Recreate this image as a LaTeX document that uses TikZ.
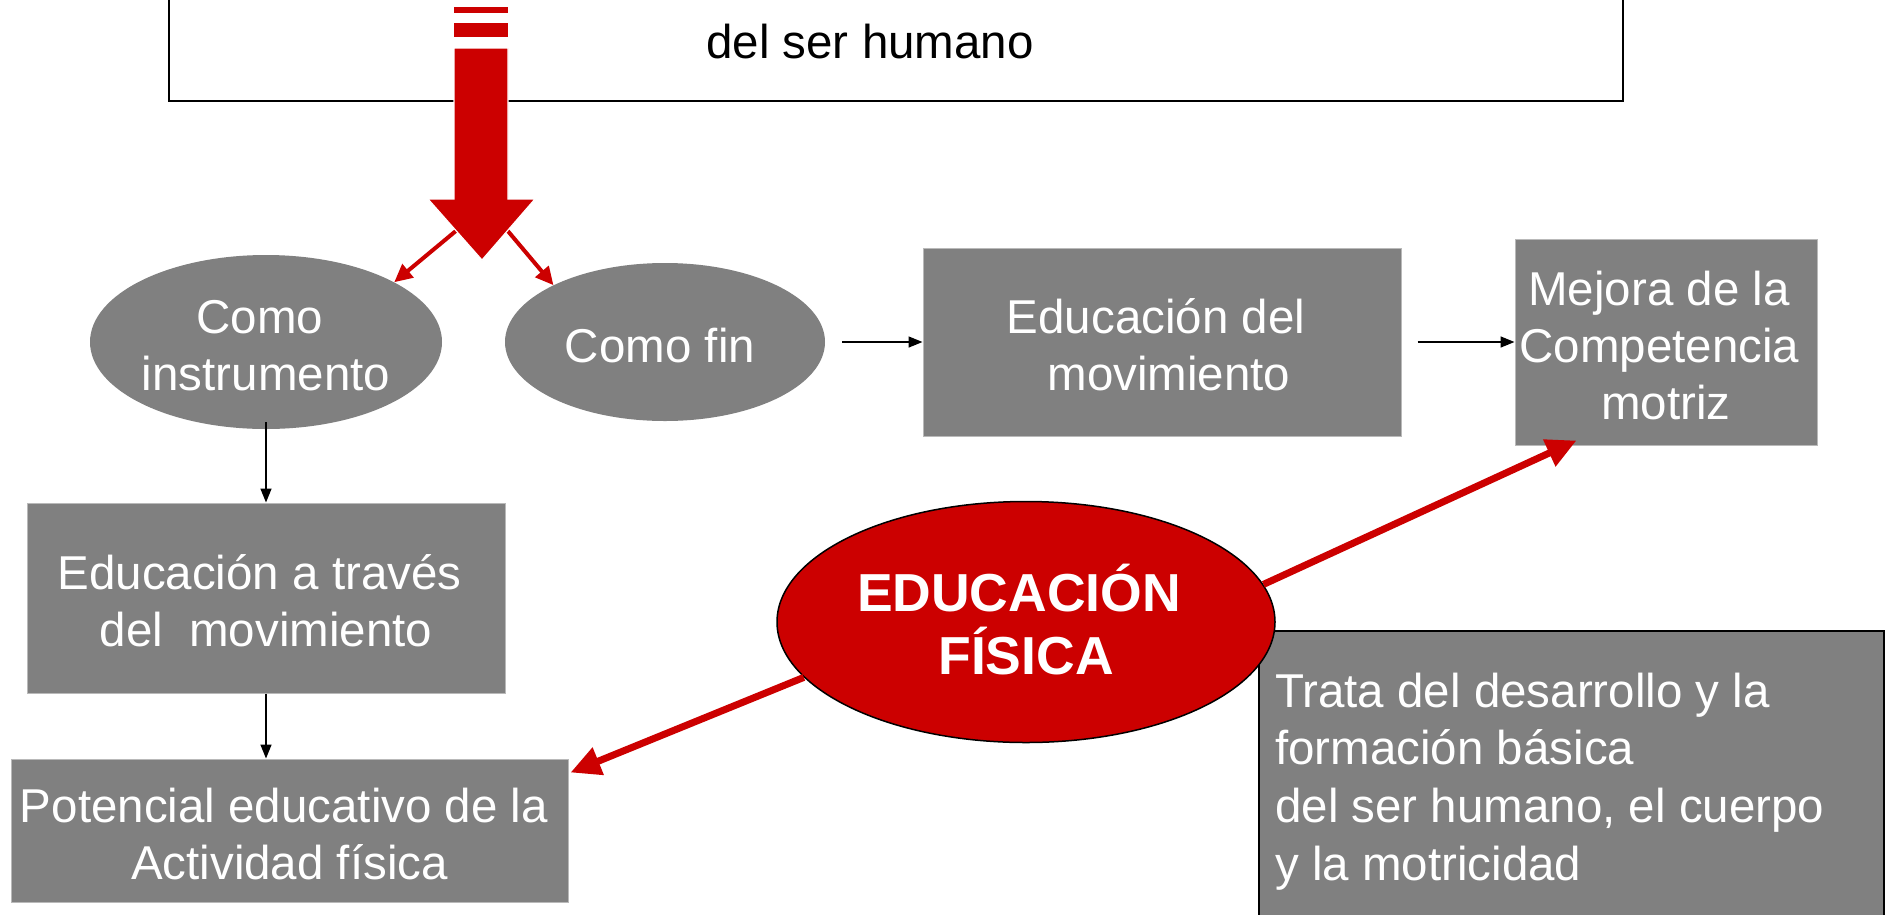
\documentclass[tikz,border=0pt]{standalone}
\usepackage{fontspec}
\setmainfont{Liberation Sans}
\usetikzlibrary{shapes.geometric,arrows.meta,calc}
\definecolor{efred}{HTML}{CC0000}
\definecolor{gbox}{HTML}{808080}
\newcommand\lstrut{\rule[-3pt]{0pt}{46pt}}
\newcommand\bstrut{\rule[-6.4pt]{0pt}{48.2pt}}
\begin{document}
\begin{tikzpicture}[x=1pt,y=-1pt,
  txt/.style={font=\fontsize{47.5}{57}\selectfont, text=white, align=center, inner sep=0pt},
  graybox/.style={txt, fill=gbox, draw=gray!55, line width=1pt},
  grayell/.style={txt, ellipse, fill=gbox},
  blk/.style={-{Triangle[length=14pt,width=11pt]}, line width=1.5pt},
  redsmall/.style={-{Triangle[length=18pt,width=17pt]}, line width=4pt, draw=efred},
  redbig/.style={-{Triangle[length=30pt,width=28pt]}, line width=7pt, draw=efred},
]
\useasboundingbox (0,0) rectangle (1885,914);
\clip (0,0) rectangle (1885,914);
\fill[white] (0,0) rectangle (1885,914);

% top box (cut off)
\node[draw=black, line width=1.5pt, minimum width=1454pt, minimum height=261pt, inner sep=0pt] (topbox) at (896,-29.5) {};
\node[font=\fontsize{47.5}{57}\selectfont, text=black, anchor=base, inner sep=0pt] (tline) at (870,58) {del ser humano};

% gray shapes
\node[grayell, minimum width=352pt, minimum height=174pt] (ci) at (266,342) {\lstrut Como\kern12pt\\instrumento\lstrut};
\node[grayell, minimum width=320pt, minimum height=158pt] (cf) at (665,342) {\lstrut Como fin\kern10pt};
\node[graybox, minimum width=478pt, minimum height=188pt] (ed) at (1162,342) {\lstrut Educación del\kern12pt\\\kern14pt movimiento\lstrut};
\node[graybox, minimum width=302pt, minimum height=206pt] (mej) at (1666,342) {\lstrut Mejora de la\kern14pt\\Competencia\kern13pt\\motriz\lstrut};
\node[graybox, minimum width=478pt, minimum height=190pt] (eat) at (266,598) {\lstrut Educación a través\kern13pt\\del\ \ movimiento\lstrut};
\node[graybox, minimum width=557pt, minimum height=143pt] (pot) at (289.5,830.5) {\lstrut Potencial educativo de la\kern11pt\\Actividad física\lstrut};

% Trata box
\node[draw=black, line width=1.5pt, fill=gbox, minimum width=625pt, minimum height=330pt, inner sep=0pt, anchor=north west] (trbox) at (1258,630) {};
\node[txt, align=left, anchor=north west, font=\fontsize{47.5}{57.7}\selectfont] (trata) at (1275,664)
  {\lstrut Trata del desarrollo y la\\formación básica\\del ser humano, el cuerpo\\y la motricidad};

% main ellipse
\node[ellipse, fill=efred, draw=black, line width=1.5pt, minimum width=498pt, minimum height=241pt,
      text=white, font=\bfseries\fontsize{53.5}{63}\selectfont, align=center, inner sep=0pt] (ef) at (1026,622)
  {\bstrut EDUCACIÓN\kern14pt\\FÍSICA\bstrut};

% red connectors from main ellipse
\draw[redbig] (ef.9) -- ($(mej.south west)+(62,-5)$);
\draw[redbig] (ef.194) -- ($(pot.north east)+(2,14)$);

% black connectors
\draw[blk] ([xshift=17pt]cf.east) -- (ed.west);
\draw[blk] ([xshift=16pt]ed.east) -- (mej.west);
\draw[blk] ([yshift=7pt]ci.south) -- (eat.north);
\draw[blk] (eat.south) -- (eat.south |- pot.north);

% big striped arrow
\coordinate (hl) at (457,230);
\coordinate (hr) at (507,230);
\draw[redsmall] (hl) -- (ci.25);
\draw[redsmall] (hr) -- (cf.153);
\path[fill=efred, draw=white, line width=1.2pt] (454,48) -- (508,48) -- (508,199) -- (535,199) -- (482,260) -- (428,199) -- (454,199) -- cycle;
\fill[efred] (454,23) rectangle (508,37);
\fill[efred] (454,7) rectangle (508,13);
\end{tikzpicture}
\end{document}
